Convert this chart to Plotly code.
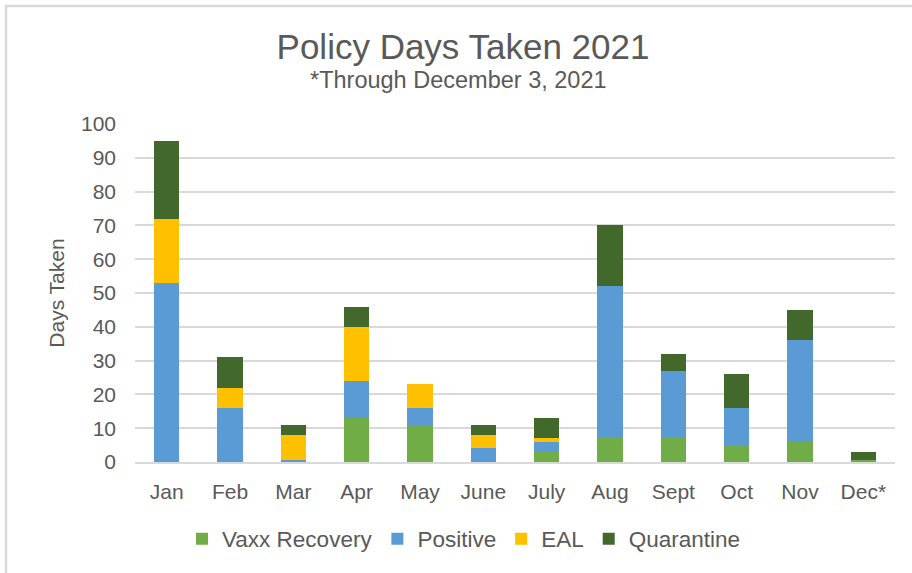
import plotly.graph_objects as go

months = ["Jan", "Feb", "Mar", "Apr", "May", "June", "July", "Aug", "Sept", "Oct", "Nov", "Dec*"]
vaxx_recovery = [0, 0, 0, 13, 11, 0, 3, 7, 7, 5, 6, 0.5]
positive = [53, 16, 0.5, 11, 5, 4, 3, 45, 20, 11, 30, 0]
eal = [19, 6, 7.5, 16, 7, 4, 1, 0, 0, 0, 0, 0]
quarantine = [23, 9, 3, 6, 0, 3, 6, 18, 5, 10, 9, 2.5]
y_ticks = list(range(0, 101, 10))

series = [
    ("Vaxx Recovery", vaxx_recovery, "#70AD47"),
    ("Positive", positive, "#5B9BD5"),
    ("EAL", eal, "#FFC000"),
    ("Quarantine", quarantine, "#43682B"),
]

FONT = "Liberation Sans, Arial, sans-serif"
GREY = "#595959"

fig = go.Figure()
for name, vals, color in series:
    fig.add_trace(go.Bar(x=months, y=vals, name=name,
                         marker=dict(color=color, line=dict(width=0))))

W, H = 912, 573
L, R, T, B = 135, 17, 124, 111
pw, ph = W - L - R, H - T - B

def px_x(p):
    return (p - L) / pw

def px_y(p):
    return (H - B - p) / ph

fig.update_layout(
    width=W, height=H,
    margin=dict(l=L, r=R, t=T, b=B, autoexpand=False),
    paper_bgcolor="white", plot_bgcolor="white",
    barmode="stack", bargap=0.6,
    font=dict(family=FONT, color=GREY, size=21),
    title=dict(text="Policy Days Taken 2021", font=dict(size=35, color=GREY, family=FONT),
               x=463 / W, xanchor="center", xref="container",
               y=1 - 47 / H, yanchor="middle", yref="container"),
    showlegend=True,
    legend=dict(orientation="h", x=px_x(464), xanchor="center", y=px_y(539), yanchor="middle",
                font=dict(size=22.5, color=GREY, family=FONT), traceorder="normal",
                bgcolor="rgba(0,0,0,0)"),
    xaxis=dict(showgrid=False, showline=True, linecolor="#D9D9D9", linewidth=1.5,
               ticks="", tickfont=dict(size=21, color=GREY), ticklabelstandoff=10,
               fixedrange=True),
    yaxis=dict(range=[0, 100], tickvals=y_ticks, showgrid=True, gridcolor="#D9D9D9", gridwidth=1.5,
               zeroline=False, showline=False, ticks="", tickfont=dict(size=21, color=GREY),
               ticklabelstandoff=18, fixedrange=True,
               title=dict(text="Days Taken", font=dict(size=21, color=GREY), standoff=10)),
    annotations=[dict(text="*Through December 3, 2021", xref="paper", yref="paper",
                      x=px_x(458), y=px_y(80), xanchor="center", yanchor="middle",
                      showarrow=False, font=dict(size=23.5, color=GREY, family=FONT))],
    shapes=[
        dict(type="line", xref="paper", yref="paper", x0=px_x(6), x1=px_x(6), y0=px_y(5), y1=px_y(580),
             line=dict(color="#D9D9D9", width=2.5)),
        dict(type="line", xref="paper", yref="paper", x0=px_x(5), x1=px_x(W + 5), y0=px_y(6), y1=px_y(6),
             line=dict(color="#D9D9D9", width=2.5)),
    ],
)

fig.write_html("out.html", config={"displayModeBar": False},
               post_script="document.body.style.margin='0';")
